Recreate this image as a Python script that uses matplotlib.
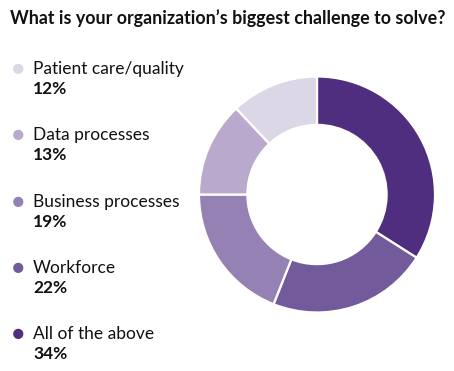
import matplotlib
matplotlib.use("Agg")
import matplotlib.pyplot as plt

TITLE = "What is your organization\u2019s biggest challenge to solve?"
CATEGORIES = ["All of the above", "Workforce", "Business processes",
              "Data processes", "Patient care/quality"]
VALUES = [34, 22, 19, 13, 12]
COLORS = ["#4f2d7f", "#735a9a", "#9581b3", "#b9a9cd", "#dcd7e7"]

W, H = 454, 371
plt.rcParams["font.family"] = ["Lato", "DejaVu Sans"]
fig = plt.figure(figsize=(W / 100, H / 100), dpi=100)
fig.patch.set_facecolor("white")

fig.text(227.5 / W, 1 - 18 / H, TITLE, ha="center", va="center",
         fontsize=12.9, fontweight="bold", color="#111111")

# donut
cx, cy, r = 317, 194.5, 118
ax = fig.add_axes([(cx - r) / W, 1 - (cy + r) / H, 2 * r / W, 2 * r / H])
ax.pie(VALUES, colors=COLORS, startangle=90, counterclock=False,
       wedgeprops=dict(width=0.41, edgecolor="white", linewidth=1.6))
ax.set_xlim(-1, 1)
ax.set_ylim(-1, 1)
ax.set_aspect("equal")
ax.axis("off")

# legend (top: Patient care/quality)
y0, dy = 69, 66.3
for i, k in enumerate(range(len(CATEGORIES) - 1, -1, -1)):
    y = y0 + i * dy
    fig.text(18 / W, 1 - y / H, "\u25cf", ha="center", va="center",
             fontsize=15, color=COLORS[k])
    fig.text(33 / W, 1 - y / H, CATEGORIES[k], ha="left", va="center",
             fontsize=12.5, color="#111111")
    fig.text(33 / W, 1 - (y + 20) / H, f"{VALUES[k]}%", ha="left", va="center",
             fontsize=12.5, fontweight="bold", color="#111111")

fig.savefig("out.png", dpi=100, facecolor="white")
